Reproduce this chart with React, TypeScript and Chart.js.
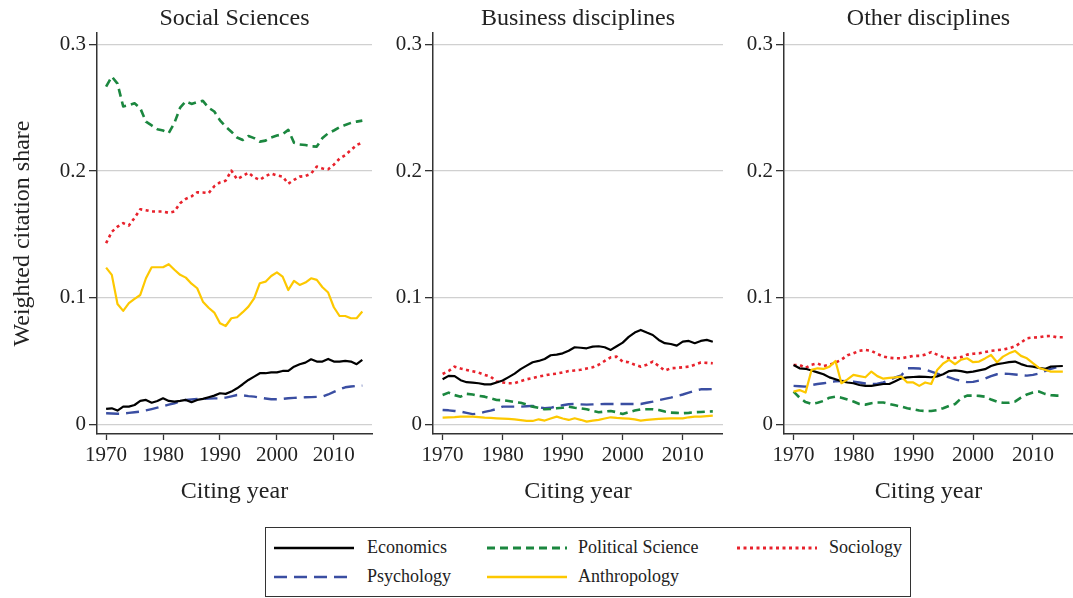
import React, { useEffect, useRef } from "react";
import { Chart, registerables } from "chart.js";
Chart.register(...registerables);

const FONT = "'Liberation Serif', 'Times New Roman', serif";

const YEARS = [
  1970, 1971, 1972, 1973, 1974, 1975, 1976, 1977, 1978, 1979,
  1980, 1981, 1982, 1983, 1984, 1985, 1986, 1987, 1988, 1989,
  1990, 1991, 1992, 1993, 1994, 1995, 1996, 1997, 1998, 1999,
  2000, 2001, 2002, 2003, 2004, 2005, 2006, 2007, 2008, 2009,
  2010, 2011, 2012, 2013, 2014, 2015,
];
const X_TICKS = [1970, 1980, 1990, 2000, 2010];
const Y_TICKS = [0, 0.1, 0.2, 0.3];
const PANEL_TITLES = ["Social Sciences", "Business disciplines", "Other disciplines"];
const SERIES_NAMES = ["Economics", "Political Science", "Sociology", "Psychology", "Anthropology"];
const Y_TITLE = "Weighted citation share";
const X_TITLE = "Citing year";

// Social Sciences
const socEcon = [
  0.0121, 0.0126, 0.0108, 0.0139, 0.0139, 0.0152, 0.0184, 0.0192, 0.017, 0.0184,
  0.0205, 0.0184, 0.0179, 0.0184, 0.0192, 0.0174, 0.0192, 0.02, 0.0213, 0.0226,
  0.0245, 0.024, 0.0258, 0.0284, 0.0316, 0.035, 0.0376, 0.0403, 0.0403, 0.041,
  0.041, 0.0421, 0.0421, 0.0455, 0.0474, 0.0487, 0.0513, 0.0495, 0.0495, 0.0516,
  0.0495, 0.0495, 0.05, 0.0495, 0.0474, 0.0508,
];
const socPol = [
  0.2667, 0.2746, 0.269, 0.251, 0.252, 0.2535, 0.2496, 0.239, 0.236, 0.233,
  0.232, 0.23, 0.238, 0.25, 0.255, 0.253, 0.2545, 0.2554, 0.25, 0.247,
  0.24, 0.235, 0.231, 0.2265, 0.2245, 0.2277, 0.226, 0.2232, 0.224, 0.2265,
  0.228, 0.229, 0.2325, 0.2224, 0.221, 0.2205, 0.2195, 0.2193, 0.226, 0.2298,
  0.232, 0.2345, 0.2364, 0.238, 0.239, 0.2398,
];
const socSoc = [
  0.143, 0.152, 0.156, 0.1588, 0.157, 0.163, 0.1698, 0.169, 0.168, 0.168,
  0.168, 0.167, 0.168, 0.1746, 0.178, 0.18, 0.1832, 0.183, 0.1825, 0.188,
  0.191, 0.1924, 0.2003, 0.1935, 0.196, 0.1987, 0.195, 0.193, 0.196, 0.198,
  0.1965, 0.1956, 0.19, 0.193, 0.1956, 0.196, 0.198, 0.2035, 0.202, 0.2014,
  0.205, 0.2098, 0.2125, 0.2165, 0.2205, 0.2225,
];
const socPsych = [
  0.0087, 0.0085, 0.0083, 0.0084, 0.009, 0.0095, 0.01, 0.011, 0.012, 0.0131,
  0.0143, 0.0155, 0.0166, 0.018, 0.0192, 0.0196, 0.02, 0.02, 0.0202, 0.0204,
  0.0205, 0.021, 0.022, 0.0231, 0.0228, 0.0222, 0.0218, 0.021, 0.0203, 0.0197,
  0.0198, 0.02, 0.0205, 0.0208, 0.021, 0.0213, 0.0214, 0.0216, 0.0218, 0.0235,
  0.0255, 0.0275, 0.0292, 0.0298, 0.0303, 0.0305,
];
const socAnth = [
  0.1237, 0.118, 0.095, 0.0895, 0.0956, 0.099, 0.1021, 0.1153, 0.124, 0.124,
  0.124, 0.1264, 0.122, 0.118, 0.1158, 0.111, 0.1074, 0.0968, 0.092, 0.0882,
  0.0798, 0.0776, 0.0837, 0.0845, 0.0885, 0.0929, 0.0995, 0.1114, 0.1126, 0.1171,
  0.12, 0.1166, 0.106, 0.1132, 0.11, 0.1119, 0.1153, 0.114, 0.1082, 0.104,
  0.0924, 0.0855, 0.0855, 0.0837, 0.0837, 0.089,
];

// Business disciplines
const busEcon = [
  0.0355, 0.0382, 0.038, 0.0348, 0.0332, 0.0328, 0.0324, 0.0315, 0.0315, 0.033,
  0.0345, 0.0372, 0.04, 0.0435, 0.0463, 0.049, 0.05, 0.0515, 0.0545, 0.055,
  0.056, 0.0581, 0.0608, 0.0604, 0.06, 0.0613, 0.0616, 0.0608, 0.0587, 0.0616,
  0.0645, 0.069, 0.0724, 0.0745, 0.0724, 0.0705, 0.0666, 0.064, 0.0634, 0.0621,
  0.0652, 0.0658, 0.064, 0.0658, 0.0666, 0.0652,
];
const busPol = [
  0.0231, 0.025, 0.023, 0.0218, 0.024, 0.0235, 0.0225, 0.0218, 0.0205, 0.0192,
  0.019, 0.0184, 0.0175, 0.017, 0.0155, 0.0139, 0.013, 0.0118, 0.012, 0.0126,
  0.013, 0.0139, 0.013, 0.0125, 0.0118, 0.0105, 0.0095, 0.01, 0.0105, 0.0095,
  0.0081, 0.0095, 0.0108, 0.0118, 0.0118, 0.0118, 0.0112, 0.01, 0.0092, 0.009,
  0.0087, 0.009, 0.0095, 0.0097, 0.01, 0.0102,
];
const busSoc = [
  0.0397, 0.042, 0.0455, 0.044, 0.0429, 0.0418, 0.0408, 0.039, 0.0376, 0.0337,
  0.033, 0.0324, 0.0324, 0.034, 0.0355, 0.0365, 0.0376, 0.0385, 0.0395, 0.04,
  0.041, 0.042, 0.0425, 0.043, 0.044, 0.045, 0.047, 0.05, 0.0529, 0.0534,
  0.0495, 0.049, 0.047, 0.0455, 0.047, 0.0495, 0.046, 0.0424, 0.0442, 0.0445,
  0.045, 0.0455, 0.047, 0.0487, 0.0485, 0.0482,
];
const busPsych = [
  0.0113, 0.011, 0.0105, 0.01, 0.009, 0.008, 0.0085, 0.0098, 0.0108, 0.012,
  0.0139, 0.0139, 0.0139, 0.0139, 0.0142, 0.0145, 0.0135, 0.0126, 0.013, 0.0142,
  0.015, 0.0158, 0.016, 0.0157, 0.0155, 0.0157, 0.0158, 0.016, 0.016, 0.016,
  0.016, 0.016, 0.016, 0.016, 0.017, 0.0179, 0.019, 0.02, 0.021, 0.0222,
  0.0235, 0.025, 0.0265, 0.0276, 0.0276, 0.0278,
];
const busAnth = [
  0.0052, 0.0054, 0.0056, 0.006, 0.006, 0.006, 0.0056, 0.0052, 0.005, 0.0047,
  0.0045, 0.0042, 0.0038, 0.0032, 0.0026, 0.0026, 0.0039, 0.0029, 0.0045, 0.006,
  0.0045, 0.0034, 0.0047, 0.0035, 0.0021, 0.0028, 0.0034, 0.0045, 0.0055, 0.005,
  0.0047, 0.0045, 0.0038, 0.0029, 0.0034, 0.0038, 0.0042, 0.0045, 0.0047, 0.0047,
  0.0047, 0.0055, 0.006, 0.006, 0.0064, 0.0068,
];

// Other disciplines
const othEcon = [
  0.0468, 0.0442, 0.0438, 0.0425, 0.041, 0.0395, 0.037, 0.0355, 0.034, 0.033,
  0.0324, 0.031, 0.0303, 0.0303, 0.031, 0.0318, 0.0318, 0.034, 0.0363, 0.037,
  0.0373, 0.0376, 0.0374, 0.0371, 0.0378, 0.0395, 0.042, 0.0425, 0.042, 0.041,
  0.0416, 0.0425, 0.0435, 0.046, 0.0475, 0.0482, 0.049, 0.0495, 0.0475, 0.046,
  0.0455, 0.0445, 0.0437, 0.0455, 0.0458, 0.046,
];
const othPol = [
  0.0258, 0.021, 0.0175, 0.016, 0.017, 0.0184, 0.021, 0.0218, 0.021, 0.0195,
  0.018, 0.016, 0.0155, 0.0166, 0.0172, 0.0172, 0.016, 0.015, 0.0139, 0.0126,
  0.0118, 0.0108, 0.0105, 0.0105, 0.0112, 0.0126, 0.0145, 0.016, 0.0205, 0.0226,
  0.0226, 0.0224, 0.0218, 0.0195, 0.0178, 0.017, 0.017, 0.0179, 0.021, 0.0235,
  0.025, 0.0258, 0.024, 0.023, 0.0226, 0.0226,
];
const othSoc = [
  0.0468, 0.0468, 0.0445, 0.047, 0.048, 0.046, 0.047, 0.0487, 0.051, 0.0545,
  0.056, 0.058, 0.0587, 0.058, 0.0555, 0.0535, 0.0525, 0.0521, 0.0521, 0.053,
  0.054, 0.054, 0.055, 0.057, 0.055, 0.053, 0.0521, 0.0525, 0.053, 0.055,
  0.0557, 0.056, 0.057, 0.058, 0.0585, 0.059, 0.06, 0.0615, 0.0645, 0.0679,
  0.0685, 0.0687, 0.0695, 0.0697, 0.0687, 0.0687,
];
const othPsych = [
  0.0303, 0.03, 0.0297, 0.031, 0.0318, 0.0324, 0.033, 0.034, 0.0342, 0.034,
  0.0337, 0.033, 0.0322, 0.0318, 0.032, 0.033, 0.035, 0.037, 0.0385, 0.0442,
  0.0442, 0.044, 0.0432, 0.0416, 0.04, 0.0385, 0.037, 0.0355, 0.0342, 0.0333,
  0.0335, 0.0345, 0.036, 0.038, 0.0395, 0.04, 0.0398, 0.0393, 0.0388, 0.0384,
  0.039, 0.04, 0.042, 0.0437, 0.045, 0.046,
];
const othAnth = [
  0.0258, 0.027, 0.025, 0.0429, 0.0442, 0.0437, 0.0455, 0.05, 0.0324, 0.0355,
  0.039, 0.038, 0.0371, 0.0416, 0.038, 0.036, 0.0366, 0.037, 0.0376, 0.033,
  0.033, 0.0303, 0.033, 0.0318, 0.0429, 0.048, 0.0508, 0.0474, 0.051, 0.0521,
  0.049, 0.0495, 0.052, 0.0547, 0.049, 0.0534, 0.056, 0.0579, 0.054, 0.0521,
  0.0482, 0.0445, 0.043, 0.0416, 0.0416, 0.0416,
];

const PANEL_DATA = [
  [socEcon, socPol, socSoc, socPsych, socAnth],
  [busEcon, busPol, busSoc, busPsych, busAnth],
  [othEcon, othPol, othSoc, othPsych, othAnth],
];

const STYLES = [
  { color: "#000000", dash: [] as number[], width: 2.2, order: 1 },
  { color: "#1b873f", dash: [8, 5], width: 2.6, order: 3 },
  { color: "#e8222c", dash: [3, 3.5], width: 2.6, order: 2 },
  { color: "#3a4ea2", dash: [13, 7], width: 2.4, order: 4 },
  { color: "#fdc800", dash: [] as number[], width: 2.2, order: 0 },
];

const PANELS = [
  { left: 0, width: 380, yWidth: 97, padRight: 8 },
  { left: 380, width: 343, yWidth: 53, padRight: 0 },
  { left: 723, width: 350, yWidth: 61, padRight: 0 },
];

const CANVAS_H = 514;

const panelTitlePlugin = {
  id: "panelTitle",
  afterDraw(chart: any, _args: any, opts: any) {
    const { ctx, chartArea } = chart;
    ctx.save();
    ctx.font = `24px ${FONT}`;
    ctx.fillStyle = "#222";
    ctx.textAlign = "center";
    ctx.textBaseline = "alphabetic";
    ctx.fillText(opts.text, (chartArea.left + chartArea.right) / 2, 24.5);
    ctx.restore();
  },
};

function Panel({ idx }: { idx: number }) {
  const ref = useRef<HTMLCanvasElement>(null);
  const p = PANELS[idx];
  useEffect(() => {
    const datasets = PANEL_DATA[idx].map((vals, i) => ({
      label: SERIES_NAMES[i],
      data: YEARS.map((yr, k) => ({ x: yr, y: vals[k] })),
      borderColor: STYLES[i].color,
      borderDash: STYLES[i].dash,
      borderWidth: STYLES[i].width,
      order: STYLES[i].order,
      pointRadius: 0,
      tension: 0,
      fill: false,
      borderCapStyle: "butt",
      borderJoinStyle: "round",
    }));
    const chart = new Chart(ref.current as HTMLCanvasElement, {
      type: "line",
      data: { datasets } as any,
      options: {
        animation: false,
        responsive: false,
        events: [],
        layout: { padding: { top: 33, right: p.padRight, left: 0, bottom: 0 } },
        plugins: {
          legend: { display: false },
          tooltip: { enabled: false },
          title: { display: false },
          panelTitle: { text: PANEL_TITLES[idx] },
        } as any,
        scales: {
          x: {
            type: "linear",
            min: 1968.4,
            max: 2016.7,
            afterBuildTicks: (s: any) => {
              s.ticks = X_TICKS.map((v) => ({ value: v }));
            },
            afterFit: (s: any) => {
              s.height = 80;
            },
            grid: {
              drawOnChartArea: false,
              drawTicks: true,
              tickLength: 6,
              tickColor: "#333",
              tickWidth: 1.3,
            },
            border: { display: true, color: "#333", width: 1.5 },
            ticks: {
              font: { family: FONT, size: 21 },
              color: "#222",
              padding: 3,
              maxRotation: 0,
              autoSkip: false,
              callback: (v: any) => String(v),
            },
            title: {
              display: true,
              text: X_TITLE,
              font: { family: FONT, size: 24 },
              color: "#222",
              padding: { top: 0, bottom: 8 },
            },
          },
          y: {
            type: "linear",
            min: -0.0077,
            max: 0.309,
            afterBuildTicks: (s: any) => {
              s.ticks = Y_TICKS.map((v) => ({ value: v }));
            },
            afterFit: (s: any) => {
              s.width = p.yWidth;
            },
            grid: {
              color: "#d0d0d0",
              lineWidth: 1.3,
              drawTicks: true,
              tickLength: 8,
              tickColor: "#333",
              tickWidth: 1.3,
            },
            border: { display: true, color: "#333", width: 1.5 },
            ticks: {
              font: { family: FONT, size: 21 },
              color: "#222",
              padding: 3,
              callback: (v: any) => (Number(v) === 0 ? "0" : Number(v).toFixed(1)),
            },
            title: {
              display: idx === 0,
              text: Y_TITLE,
              font: { family: FONT, size: 24 },
              color: "#222",
              padding: { top: 8, bottom: 0 },
            },
          },
        },
      } as any,
      plugins: [panelTitlePlugin],
    });
    return () => chart.destroy();
  }, [idx]);
  return (
    <canvas
      ref={ref}
      width={p.width}
      height={CANVAS_H}
      style={{ position: "absolute", left: p.left, top: 0, width: p.width, height: CANVAS_H }}
    />
  );
}

const LEGEND_ITEMS = [
  { s: 0, lineX: 274, textX: 367, rowY: 548 },
  { s: 1, lineX: 487, textX: 578, rowY: 548 },
  { s: 2, lineX: 737, textX: 829, rowY: 548 },
  { s: 3, lineX: 274, textX: 367, rowY: 577 },
  { s: 4, lineX: 487, textX: 578, rowY: 577 },
];

function Legend() {
  return (
    <>
      <div
        style={{
          position: "absolute",
          left: 265,
          top: 527,
          width: 646,
          height: 70,
          border: "1.5px solid #333",
          boxSizing: "border-box",
        }}
      />
      {LEGEND_ITEMS.map((it) => {
        const st = STYLES[it.s];
        return (
          <React.Fragment key={it.s}>
            <svg
              width={80}
              height={10}
              style={{ position: "absolute", left: it.lineX, top: it.rowY - 5 }}
            >
              <line
                x1={0}
                y1={5}
                x2={80}
                y2={5}
                stroke={st.color}
                strokeWidth={st.width + 0.3}
                strokeDasharray={st.dash.length ? st.dash.join(",") : undefined}
              />
            </svg>
            <div
              style={{
                position: "absolute",
                left: it.textX,
                top: it.rowY - 13,
                height: 24,
                lineHeight: "24px",
                fontFamily: FONT,
                fontSize: 18,
                color: "#222",
                whiteSpace: "nowrap",
              }}
            >
              {SERIES_NAMES[it.s]}
            </div>
          </React.Fragment>
        );
      })}
    </>
  );
}

export default function App() {
  return (
    <div
      style={{
        position: "absolute",
        left: 0,
        top: 0,
        width: 1073,
        height: 598,
        overflow: "hidden",
        background: "#ffffff",
      }}
    >
      <Panel idx={0} />
      <Panel idx={1} />
      <Panel idx={2} />
      <Legend />
    </div>
  );
}
